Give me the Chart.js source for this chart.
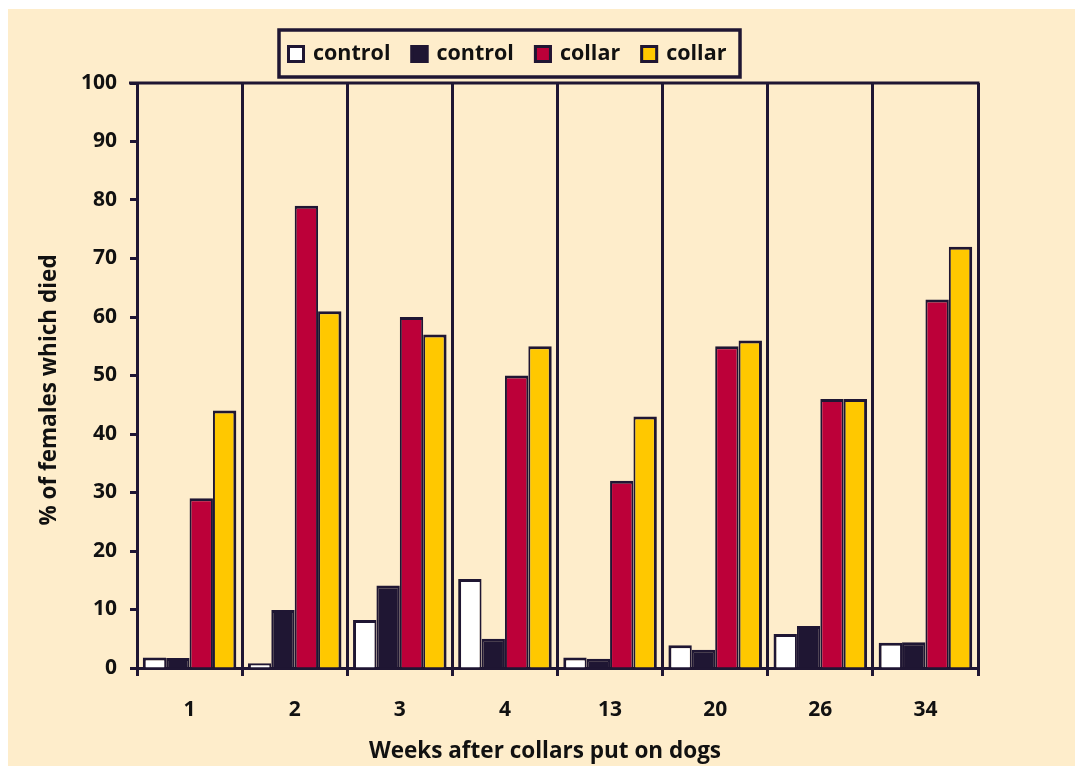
<!DOCTYPE html>
<html>
<head>
<meta charset="utf-8">
<script src="https://cdn.jsdelivr.net/npm/chart.js@4/dist/chart.umd.min.js"></script>
<style>
  html, body { margin: 0; padding: 0; background: #ffffff; }
  #wrap { position: absolute; left: 8px; top: 9px; width: 1067px; height: 757px; }
  canvas { display: block; }
</style>
</head>
<body>
<div id="wrap"><canvas id="chart" width="1067" height="757"></canvas></div>
<script>
// Weeks after the collars were put on the dogs
const weeks = ['1', '2', '3', '4', '13', '20', '26', '34'];

// % of females which died, per group
const controlOpen  = [1.8, 0.8, 8.2, 15.2, 1.8, 3.9, 5.8, 4.3];
const controlSolid = [1.7, 9.9, 14.1, 5.0, 1.6, 3.1, 7.2, 4.4];
const collarRed    = [29, 79, 60, 50, 32, 55, 46, 63];
const collarGold   = [44, 61, 57, 55, 43, 56, 46, 72];

const yTicks = [0, 10, 20, 30, 40, 50, 60, 70, 80, 90, 100];

const seriesLabels = ['control', 'control', 'collar', 'collar'];

const INK = '#1f1633';
const CREAM = '#feedcb';
const FONT = "'Open Sans', 'DejaVu Sans', sans-serif";

function makeSet(label, data, fill, edge) {
  return {
    label: label,
    data: data,
    backgroundColor: fill,
    borderColor: INK,
    borderWidth: { top: 3, left: edge === 'left' ? 3 : 2, right: edge === 'right' ? 3 : 2, bottom: 0 },
    borderSkipped: 'start',
    categoryPercentage: 0.89,
    barPercentage: 1.0
  };
}

// paints the cream panel behind everything
const panel = {
  id: 'panel',
  beforeDraw(chart) {
    const ctx = chart.ctx;
    ctx.save();
    ctx.fillStyle = CREAM;
    ctx.fillRect(0, 0, chart.width, chart.height);
    ctx.restore();
  }
};

// top edge of the plot frame, axis titles and the boxed legend
const decorations = {
  id: 'decorations',
  afterDraw(chart) {
    const ctx = chart.ctx;
    const a = chart.chartArea;
    ctx.save();

    // top frame line
    ctx.strokeStyle = INK;
    ctx.lineWidth = 3;
    ctx.beginPath();
    ctx.moveTo(a.left - 8, a.top);
    ctx.lineTo(a.right + 1.5, a.top);
    ctx.stroke();

    // axis titles
    ctx.fillStyle = '#111111';
    ctx.font = 'bold 22.5px ' + FONT;
    ctx.textAlign = 'center';
    ctx.textBaseline = 'middle';
    ctx.fillText('Weeks after collars put on dogs', 537, 743);
    ctx.save();
    ctx.translate(42, 381);
    ctx.rotate(-Math.PI / 2);
    ctx.fillText('% of females which died', 0, 0);
    ctx.restore();

    // legend box
    const bx = 271, by = 21, bw = 461, bh = 47;
    ctx.fillStyle = CREAM;
    ctx.fillRect(bx, by, bw, bh);
    ctx.lineWidth = 3.5;
    ctx.strokeStyle = INK;
    ctx.strokeRect(bx, by, bw, bh);

    ctx.font = 'bold 21.5px ' + FONT;
    ctx.textAlign = 'left';
    const sw = 18, gapText = 8, gapItem = 20;
    const items = chart.data.datasets.map(ds => ({ text: ds.label, fill: ds.backgroundColor }));
    let x = bx + 8;
    const cy = by + bh / 2 + 0.5;
    items.forEach(it => {
      const w = ctx.measureText(it.text).width;
      ctx.fillStyle = it.fill;
      ctx.fillRect(x, cy - sw / 2, sw, sw);
      ctx.lineWidth = 3;
      ctx.strokeStyle = INK;
      ctx.strokeRect(x + 1.5, cy - sw / 2 + 1.5, sw - 3, sw - 3);
      ctx.fillStyle = '#111111';
      ctx.fillText(it.text, x + sw + gapText, cy);
      x += sw + gapText + w + gapItem;
    });
    ctx.restore();
  }
};

new Chart(document.getElementById('chart'), {
  type: 'bar',
  data: {
    labels: weeks,
    datasets: [
      makeSet(seriesLabels[0], controlOpen, '#ffffff', 'left'),
      makeSet(seriesLabels[1], controlSolid, INK, null),
      makeSet(seriesLabels[2], collarRed, '#bc0039', null),
      makeSet(seriesLabels[3], collarGold, '#ffc800', 'right')
    ]
  },
  options: {
    responsive: false,
    animation: false,
    devicePixelRatio: 1,
    layout: { padding: { top: 74, right: 97, left: 0, bottom: 0 } },
    plugins: {
      legend: { display: false },
      title: { display: false },
      tooltip: { enabled: false }
    },
    scales: {
      x: {
        z: 1,
        offset: true,
        grid: {
          offset: true,
          display: true,
          drawOnChartArea: true,
          drawTicks: true,
          tickLength: 8,
          color: INK,
          lineWidth: 3,
          tickColor: INK,
          tickWidth: 3
        },
        border: { display: true, color: INK, width: 3 },
        ticks: {
          color: '#111111',
          font: { family: FONT, size: 21, weight: 'bold' },
          padding: 21,
          maxRotation: 0
        },
        afterFit(scale) { scale.height = 98; }
      },
      y: {
        z: 1,
        min: 0,
        max: 100,
        afterBuildTicks(scale) { scale.ticks = yTicks.map(v => ({ value: v })); },
        grid: {
          display: true,
          drawOnChartArea: false,
          drawTicks: true,
          tickLength: 7,
          tickColor: INK,
          tickWidth: 3
        },
        border: { display: true, color: INK, width: 3 },
        ticks: {
          color: '#111111',
          font: { family: FONT, size: 21, weight: 'bold' },
          padding: 13
        },
        afterFit(scale) { scale.width = 129; }
      }
    }
  },
  plugins: [panel, decorations]
});
</script>
</body>
</html>
